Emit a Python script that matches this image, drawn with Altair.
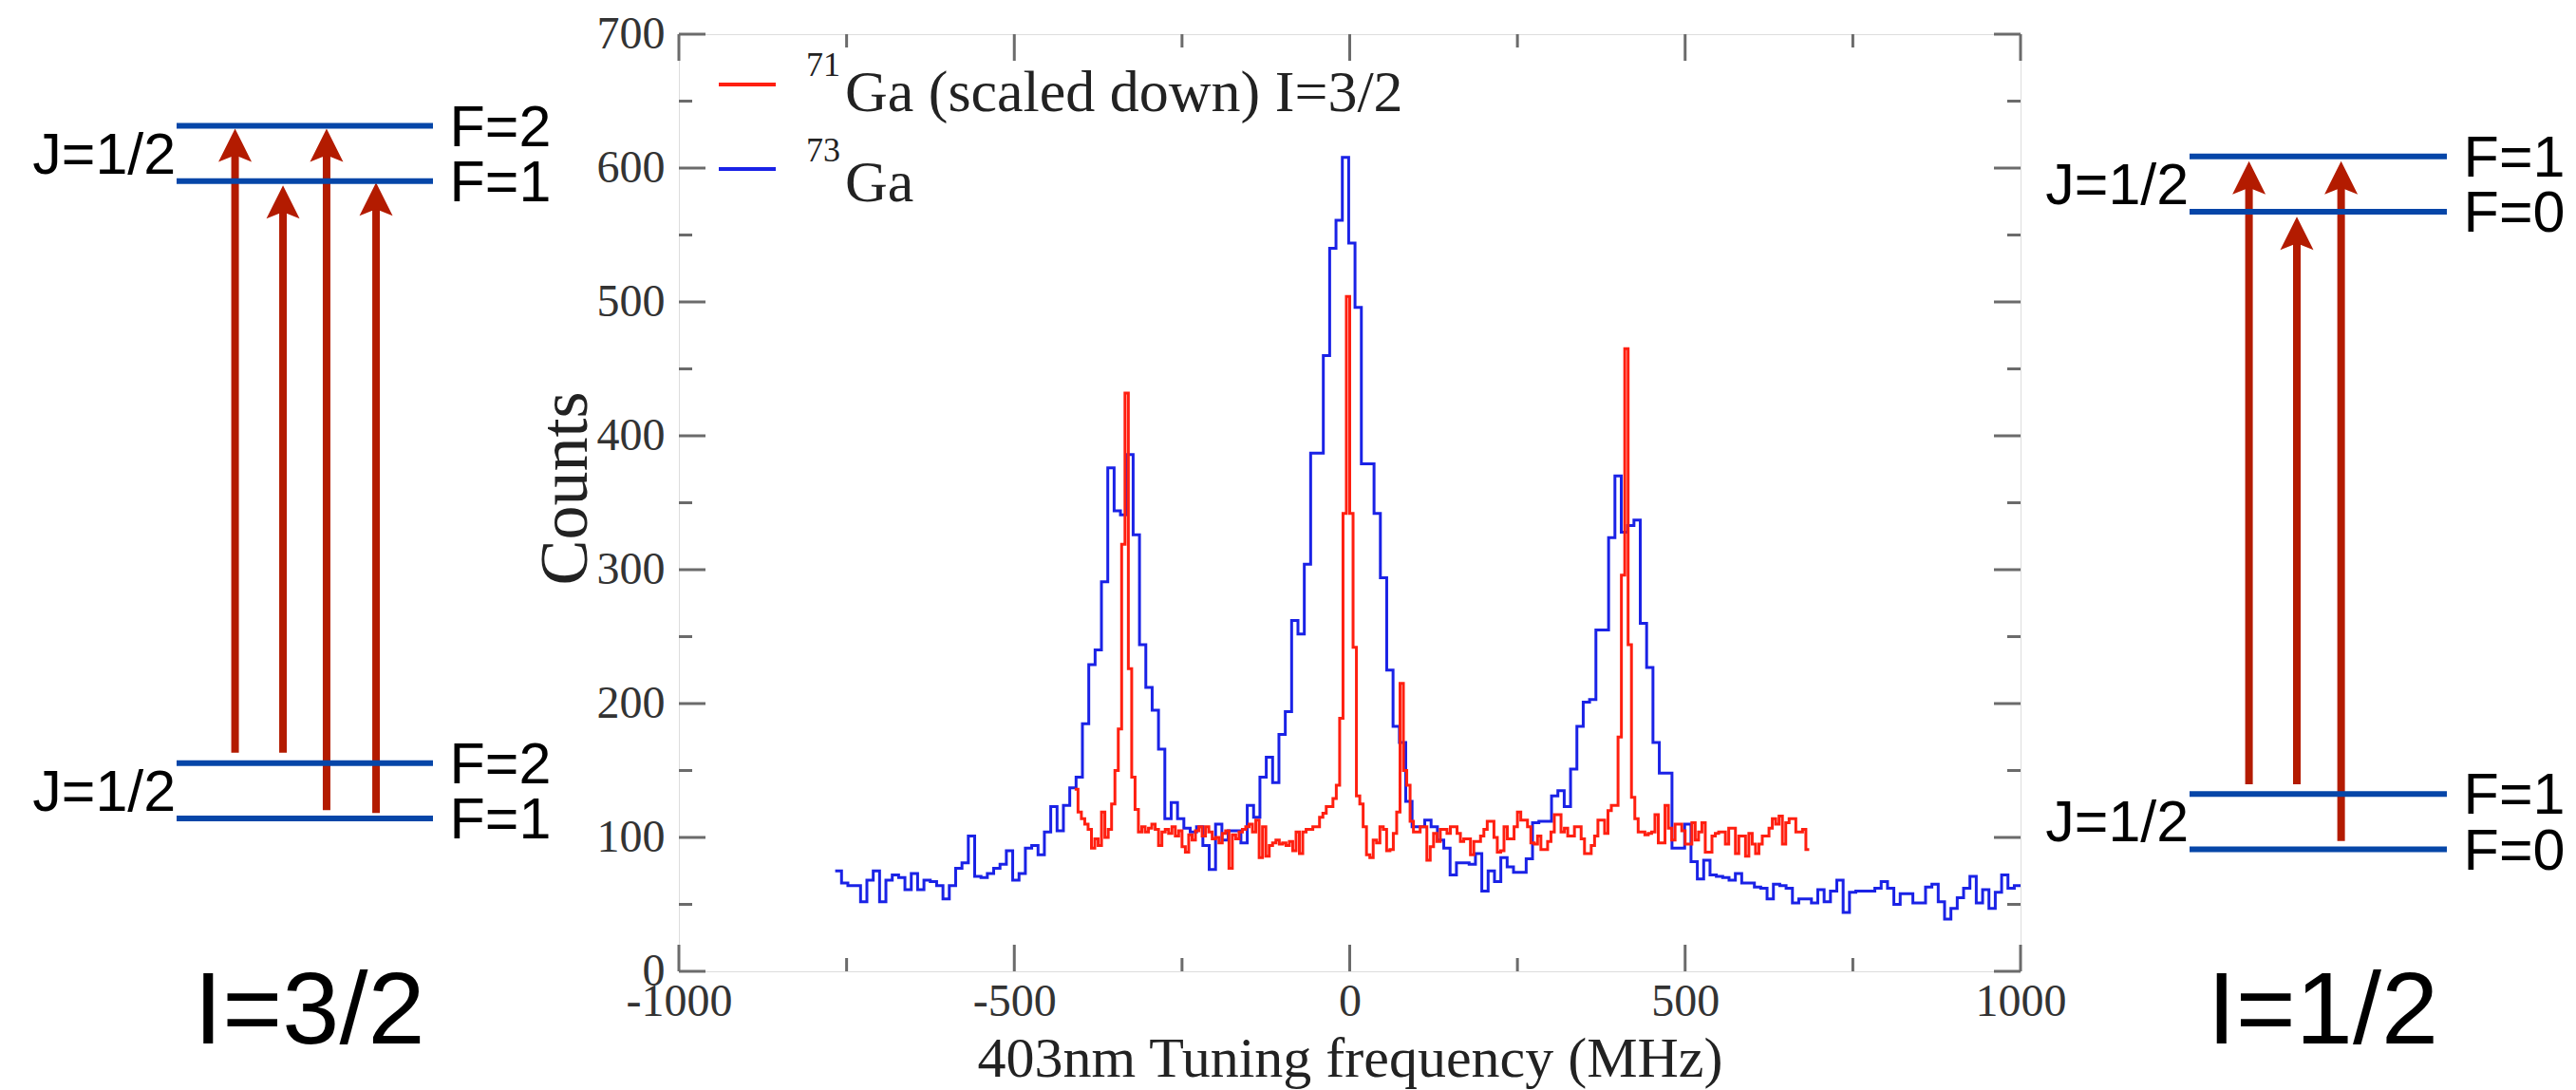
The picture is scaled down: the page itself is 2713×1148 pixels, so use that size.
import altair as alt
import pandas as pd

# ---------------- data ----------------
# 73Ga histogram (blue): left edge of first bin, bin width (MHz), counts per bin
blue_start = -767.0
blue_bin = 9.45
blue_counts = [
    75, 66, 64, 64, 52, 68, 75, 52, 68, 72, 70, 61, 73, 61, 68, 67, 64, 54, 64, 77,
    81, 101, 71, 70, 73, 77, 80, 90, 68, 73, 92, 94, 87, 104, 123, 105, 124, 137, 145, 185,
    229, 240, 291, 376, 344, 341,
    386, 326, 244, 212, 195, 166, 114, 126, 114, 107, 104, 108, 94, 76, 110, 98, 105, 105,
    96, 124, 115, 145, 160, 141, 177, 194, 262, 252, 304, 387, 387, 460, 540, 561, 608,
    544, 496, 379, 379, 342, 294, 225, 183, 171, 127, 108, 108, 113, 108,
    98, 92, 72, 81, 81, 80, 88, 60, 75, 67, 85, 78, 74, 74, 84, 111, 112, 112, 131, 135,
    123, 151, 183, 201, 203, 255, 255, 324,
    370, 328, 333, 337, 260, 227, 171, 148, 148, 92, 92, 110, 82, 69, 83, 72, 71, 70, 68,
    73, 66, 66, 63, 62, 54, 65, 64, 62, 51, 54, 54,
    51, 61, 52, 60, 68, 44, 59, 60, 60, 60, 62, 67, 62, 50, 58, 58, 51, 51, 63, 65, 52,
    39, 47, 55, 62, 71, 51, 61, 47, 59, 72, 62, 64,
]

# 71Ga histogram (red, scaled down)
red_start = -410.0
red_bin = 5.0
red_counts = [
    136, 119, 114, 110, 106, 92, 99, 94, 119, 100, 106, 125, 150, 181, 319, 432, 226, 145, 121, 104,
    108, 104, 107, 110, 106, 94, 104, 106, 103, 108, 101, 105, 93, 89, 102, 98, 105, 108, 101, 108,
    104, 99, 100, 96, 103, 105, 77, 102, 99, 104, 106, 108, 110, 104, 113, 85,
    108, 86, 94, 96, 98, 95, 96, 94, 97, 90, 104, 88, 104, 106, 106, 108, 108, 115, 118, 123,
    123, 129, 139, 189, 342, 504, 342, 242, 131, 125, 108, 87, 85, 98, 96, 108, 106, 90, 91, 103,
    119, 215, 150, 139, 112, 104, 104, 108, 108, 83, 93, 103,
    97, 106, 106, 103, 108, 108, 103, 97, 99, 99, 87, 97, 97, 101, 106, 112, 112, 100, 89, 90,
    108, 99, 99, 108, 119, 113, 113, 108, 96, 95, 101, 91, 91, 97, 104, 117, 117, 104, 107, 101,
    101, 108, 108, 99, 88, 88, 94, 101, 113, 113, 103, 120, 124, 124, 175, 296, 465, 244, 130, 114,
    104, 104, 102, 103, 104, 117, 96, 96, 124, 107, 98, 110, 110, 105, 95, 95, 111, 98, 104, 111,
    89, 89, 101, 103, 104, 104, 95, 107, 107, 88, 101, 101, 86, 103, 95, 88, 95, 101, 101, 107,
    114, 110, 116, 95, 111, 114, 114, 104, 104, 106, 91,
]

x_major = [-1000, -500, 0, 500, 1000]
x_minor = [-750, -250, 250, 750]
y_major = [0, 100, 200, 300, 400, 500, 600, 700]
y_minor = [50, 150, 250, 350, 450, 550, 650]

# level diagrams (schematic units 0..100)
level_y = [0, 8, 92, 100]
left_F = ["F=1", "F=2", "F=1", "F=2"]
right_F = ["F=0", "F=1", "F=0", "F=1"]
J_y = [4, 96]
left_arrow_x = [22.8, 41.5, 58.5, 77.8]
left_arrow_from = [9.5, 9.5, 1.2, 0.8]
left_arrow_to = [99.6, 91.4, 99.6, 91.8]
right_arrow_x = [23.1, 41.7, 58.9]
right_arrow_from = [9.4, 9.4, 1.2]
right_arrow_to = [99.3, 91.3, 99.3]

# ---------------- styling ----------------
W, H = 1413, 987
SERIF = "Liberation Serif"
SANS = "Liberation Sans"
AX = "#6b6b6b"
RED = "#ff1f10"
BLUE = "#1a22e6"
LEVEL = "#0646a8"
ARROW = "#b31b00"
HEAD = "M0,0L1,2L0,1.6L-1,2Z"

xs = alt.Scale(domain=[-1000, 1000], nice=False, zero=False)
ys = alt.Scale(domain=[0, 700], nice=False, zero=False)


def step_df(start, width, counts):
    edges = [start + width * i for i in range(len(counts) + 1)]
    return pd.DataFrame({"freq": edges, "count": list(counts) + [counts[-1]]})


one = pd.DataFrame({"a": [0]})

x_axis = alt.Axis(
    values=x_major, labelExpr="'' + datum.value", ticks=False, tickSize=0, domain=False,
    grid=False, labelFont=SERIF, labelFontSize=48, labelColor="#333333", labelPadding=8,
    labelFlush=False, labelOverlap=False, labelBaseline="top", labelAlign="center",
    title="403nm Tuning frequency (MHz)", titleFont=SERIF, titleFontSize=60,
    titleFontWeight="normal", titleColor="#222222", titleX=706.5, titleY=110,
    titleBaseline="alphabetic", titleAlign="center",
)
y_axis = alt.Axis(
    values=y_major, labelExpr="'' + datum.value", ticks=False, tickSize=0, domain=False,
    grid=False, labelFont=SERIF, labelFontSize=48, labelColor="#333333", labelPadding=15,
    labelFlush=False, labelOverlap=False, labelAlign="right", labelBaseline="middle",
    title="Counts", titleFont=SERIF, titleFontSize=72, titleFontWeight="normal",
    titleColor="#222222", titleAngle=270, titleX=-120, titleY=478,
    titleBaseline="middle", titleAlign="center",
)

blue = alt.Chart(step_df(blue_start, blue_bin, blue_counts)).mark_line(
    interpolate="step-after", color=BLUE, strokeWidth=3, clip=True
).encode(
    x=alt.X("freq:Q", scale=xs, axis=x_axis),
    y=alt.Y("count:Q", scale=ys, axis=y_axis),
)
red = alt.Chart(step_df(red_start, red_bin, red_counts)).mark_line(
    interpolate="step-after", color=RED, strokeWidth=3, clip=True
).encode(
    x=alt.X("freq:Q", scale=xs),
    y=alt.Y("count:Q", scale=ys),
)


def xticks(vals, y0, y1):
    return alt.Chart(pd.DataFrame({"freq": vals})).mark_rule(color=AX, strokeWidth=3).encode(
        x=alt.X("freq:Q", scale=xs), y=alt.value(y0), y2=alt.value(y1))


def yticks(vals, x0, x1):
    return alt.Chart(pd.DataFrame({"count": vals})).mark_rule(color=AX, strokeWidth=3).encode(
        y=alt.Y("count:Q", scale=ys), x=alt.value(x0), x2=alt.value(x1))


MAJ, MIN = 28, 14
ticks = [
    xticks(x_major, H, H - MAJ), xticks(x_minor, H, H - MIN),
    xticks(x_major, 0, MAJ), xticks(x_minor, 0, MIN),
    yticks(y_major, 0, MAJ), yticks(y_minor, 0, MIN),
    yticks(y_major, W, W - MAJ), yticks(y_minor, W, W - MIN),
]


def leg_line(color, y):
    return alt.Chart(one).mark_rule(color=color, strokeWidth=4).encode(
        x=alt.value(42), x2=alt.value(102), y=alt.value(y))


def leg_text(txt, x, y, size):
    return alt.Chart(one).mark_text(
        text=txt, font=SERIF, fontSize=size, align="left", baseline="alphabetic", color="#222222"
    ).encode(x=alt.value(x), y=alt.value(y))


legend = [
    leg_line(RED, 53), leg_line(BLUE, 142),
    leg_text("71", 134, 44, 36), leg_text("Ga (scaled down) I=3/2", 175, 81, 62),
    leg_text("73", 134, 134, 36), leg_text("Ga", 175, 176, 62),
]

main = alt.layer(blue, red, *ticks, *legend)


def diagram(xrange, yrange, F_labels, ax, afrom, ato, caption, cap_y):
    sx = alt.Scale(domain=[0, 100], range=xrange, nice=False, zero=False)
    sy = alt.Scale(domain=[0, 100], range=yrange, nice=False, zero=False)
    X = lambda f: alt.X(f, scale=sx, axis=None)
    Y = lambda f: alt.Y(f, scale=sy, axis=None)
    lv = pd.DataFrame({"x0": [0] * 4, "x1": [100] * 4, "y": level_y, "F": F_labels,
                       "fx": [106.5] * 4})
    ar = pd.DataFrame({"x": ax, "y0": afrom, "y1": ato})
    jl = pd.DataFrame({"x": [-0.3, -0.3], "y": J_y, "t": ["J=1/2", "J=1/2"]})
    cp = pd.DataFrame({"x": [51.8], "y": [cap_y], "t": [caption]})
    shafts = alt.Chart(ar).mark_rule(color=ARROW, strokeWidth=8, strokeCap="butt",
                                     y2Offset=20).encode(x=X("x:Q"), y=Y("y0:Q"), y2="y1:Q")
    heads = alt.Chart(ar).mark_point(shape=HEAD, size=1225, filled=True, opacity=1,
                                     color=ARROW, strokeWidth=0).encode(x=X("x:Q"), y=Y("y1:Q"))
    lines = alt.Chart(lv).mark_rule(color=LEVEL, strokeWidth=6).encode(
        x=X("x0:Q"), x2="x1:Q", y=Y("y:Q"))
    flab = alt.Chart(lv).mark_text(align="left", baseline="middle", font=SANS, fontSize=61,
                                   dy=3, color="black").encode(x=X("fx:Q"), y=Y("y:Q"), text="F:N")
    jlab = alt.Chart(jl).mark_text(align="right", baseline="middle", font=SANS, fontSize=61,
                                   dy=3, color="black").encode(x=X("x:Q"), y=Y("y:Q"), text="t:N")
    cap = alt.Chart(cp).mark_text(align="center", baseline="middle", font=SANS, fontSize=108,
                                  dy=6, color="black").encode(x=X("x:Q"), y=Y("y:Q"), text="t:N")
    return alt.layer(shafts, heads, lines, flab, jlab, cap)


left = diagram([186 - 715, 456 - 715], [862 - 36, 132.5 - 36], left_F,
               left_arrow_x, left_arrow_from, left_arrow_to, "I=3/2", -27.3)
right = diagram([2306 - 715, 2577 - 715], [894.6 - 36, 164.7 - 36], right_F,
                right_arrow_x, right_arrow_from, right_arrow_to, "I=1/2", -22.8)

chart = alt.layer(main, left, right).resolve_scale(
    x="independent", y="independent"
).properties(
    width=W, height=H,
    padding={"left": 715, "top": 36, "right": 2713 - 715 - W, "bottom": 1148 - 36 - H},
    autosize=alt.AutoSizeParams(type="none"),
).configure_view(
    stroke=AX, strokeWidth=3
).configure(background="white")

chart.save("out.html", embed_options={"renderer": "svg", "actions": False})
